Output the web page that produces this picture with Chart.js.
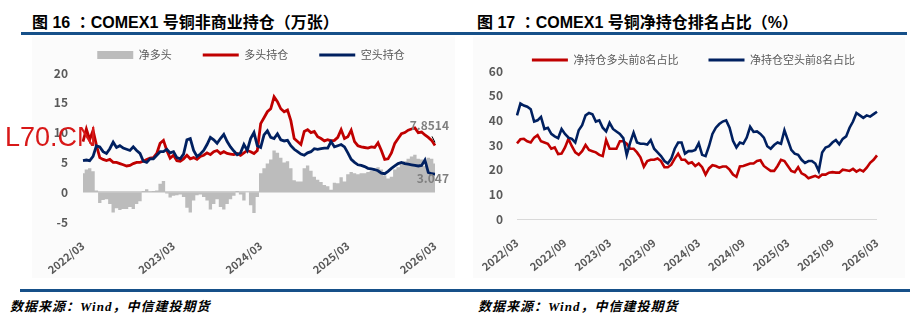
<!DOCTYPE html>
<html>
<head>
<meta charset="utf-8">
<script src="https://cdn.jsdelivr.net/npm/chart.js@4.4.1/dist/chart.umd.min.js"></script>
<style>
  body { margin: 0; background: #fff; }
  #page { position: relative; width: 915px; height: 330px; overflow: hidden; }
  .title { position: absolute; top: 9px; font: bold 16px "Liberation Sans", "Noto Sans CJK SC", sans-serif; color: #000; white-space: nowrap; }
  .colon { font-family: "Noto Sans CJK TC", "Noto Sans CJK SC", sans-serif; }
  .rule { position: absolute; height: 3px; background: #165089; }
  .panel { position: absolute; background: #fbfbfb; }
  .src { position: absolute; top: 296px; font: italic bold 13px "Liberation Serif", "Noto Sans CJK SC", serif; color: #000; white-space: nowrap; letter-spacing: 1px; }
  canvas { position: absolute; top: 0; }
  #wm { position: absolute; left: 5px; top: 122px; line-height: 1; color: #d81818; font: 27px "Liberation Sans", sans-serif; z-index: 5; }
</style>
</head>
<body>
<div id="page">
  <div class="panel" style="left:32px;top:37px;width:423px;height:241px"></div>
  <div class="panel" style="left:473px;top:37px;width:432px;height:241px"></div>
  <div class="title" style="left:32px">图 16 <span class="colon">：</span>COMEX1 号铜非商业持仓（万张）</div>
  <div class="title" style="left:477px">图 17 <span class="colon">：</span>COMEX1 号铜净持仓排名占比（%）</div>
  <div class="rule" style="left:21px;top:32px;width:440px"></div>
  <div class="rule" style="left:461px;top:32px;width:446px"></div>
  <canvas id="left" width="438" height="280" style="left:20px"></canvas>
  <canvas id="right" width="455" height="280" style="left:460px"></canvas>
  <div id="wm">L70.CN</div>
  <div class="rule" style="left:20px;top:289px;width:890px"></div>
  <div class="src" style="left:10px">数据来源：Wind，中信建投期货</div>
  <div class="src" style="left:478px">数据来源：Wind，中信建投期货</div>
</div>
<script>
// biweekly observations, first one in early March 2022
const startDate = new Date(2022, 2, 1);
const stepDays = 14;
const pointCount = 106;

// 图16 (万张)
const netLong = [3.2,3.8,4.0,3.5,0.3,-1.8,-1.3,-1.2,-2.0,-3.4,
  -2.7,-3.0,-2.8,-2.8,-2.5,-2.8,-2.0,-1.5,0.2,0.5,
  0.1,0.2,0.3,1.4,1.9,-0.2,-0.9,-0.6,-0.5,-0.4,
  -0.8,-2.6,-3.4,-1.4,-0.5,-0.4,-0.8,-1.4,-2.9,-2.0,
  -1.2,-2.5,-2.9,-2.0,-1.2,-0.6,0.2,-0.4,-1.4,0.0,
  -2.2,-3.5,-0.8,3.2,4.0,4.8,5.5,7.0,6.6,5.8,
  5.0,5.2,4.0,2.0,1.8,1.8,4.0,4.5,3.6,2.6,
  2.1,1.7,1.2,1.0,0.4,1.6,1.5,2.5,1.8,3.0,
  3.4,3.2,3.0,3.2,3.2,3.4,3.6,3.8,4.2,3.8,
  2.8,2.3,2.6,3.8,4.2,4.8,5.2,5.6,6.0,6.3,
  5.6,5.5,4.4,5.8,5.6,4.8];
const longPos = [8.5,10.6,8.8,10.4,7.9,5.8,5.5,5.3,5.5,5.0,
  5.0,4.8,4.6,4.4,4.5,4.8,5.0,5.0,5.2,5.5,
  5.7,5.8,6.5,8.2,8.7,7.0,5.7,6.2,5.3,5.2,
  5.6,6.2,5.6,5.8,5.5,6.0,6.2,6.6,6.3,6.8,
  7.0,6.5,6.8,6.5,6.4,6.3,6.5,6.2,6.6,7.0,
  6.8,6.5,7.0,11.5,12.5,13.5,14.0,16.0,15.2,14.0,
  13.5,13.8,12.0,9.0,8.5,8.0,10.2,10.5,10.0,10.2,
  9.3,9.0,8.6,8.8,8.6,8.7,9.2,10.5,9.0,9.3,
  10.4,8.5,7.8,7.6,7.5,7.4,7.6,7.5,8.3,7.0,
  5.5,5.6,6.6,8.2,9.0,9.8,10.0,10.4,10.6,10.8,
  10.0,10.1,9.6,9.2,8.7,7.8514];
const shortPos = [5.3,5.4,5.3,6.0,7.8,7.6,6.8,6.5,7.3,8.4,
  7.5,7.8,7.4,7.2,7.0,7.6,7.0,6.5,5.2,5.0,
  5.6,5.6,6.2,6.8,6.8,7.2,6.6,6.8,5.8,5.6,
  6.4,8.8,9.0,7.0,6.0,6.4,7.0,8.0,9.2,8.8,
  8.2,9.0,9.7,8.5,7.6,6.9,6.3,6.6,8.0,7.0,
  9.0,10.0,7.8,7.5,9.6,10.3,9.2,9.0,9.8,8.8,
  8.6,8.7,7.8,7.2,6.8,6.4,6.2,6.6,6.8,7.3,
  7.2,7.3,7.4,7.4,8.5,7.6,7.8,8.0,7.6,6.6,
  5.5,5.0,4.6,4.5,4.3,4.0,3.9,3.8,3.6,3.2,
  3.1,3.5,4.0,4.4,4.8,5.0,4.8,4.7,4.6,4.5,
  4.4,4.5,5.4,3.3,3.1,3.047];

// 图17 (%)
const top8Long = [30.7,32.3,32.5,31.5,31,33,34,31.5,31,30.5,
  28.5,29,26.3,26.5,29,32.5,29.5,27,26,27.5,
  30,28,27.5,27,26,25.5,32,28.5,28.5,28.5,
  31.5,31.5,30.5,28.5,28.5,27,25,21.2,23.5,24,
  24,24.5,23.5,21,21,22,24.5,26.5,24,24,
  22.5,23,21.5,22.5,21,18,20.5,21.8,21.5,20.8,
  21.3,21.3,20,18,17.1,21.3,21.5,22,22.5,22.5,
  23.5,23.8,21.5,20.5,19.5,19.5,21.5,24,23.5,21.5,
  19.5,19,21,18.5,17.8,16.5,17,17.5,16.8,18,
  18,18.8,19,18.8,18.8,20,19.8,19.5,20.3,19.2,
  20,19.3,20.8,22.8,24,25.8];
const top8Short = [42,46.8,46,45.5,44.5,39.5,40,41.4,36.5,37,
  34.5,33.5,32.8,36.5,34.5,33,32.5,31,36,38,
  42,43,42.5,39.5,40,37,35.5,39,36.5,35.5,
  34.5,32.8,26,31,35,31,30.5,30.5,30.2,32,
  28.5,27,25.5,23.5,22.5,24.5,28.5,31,31,26.5,
  27.5,27.5,28,30.7,26,25.5,29.5,34.5,37,38.5,
  39.5,40,37,31.7,29,31,30.5,33,37.4,35.3,
  35.5,34.5,33,29.5,28.5,30,31,30.5,36,32,
  28,26.5,26,24,22.7,23.5,23.5,22.5,19.5,27,
  29,29.5,31,32,30.3,32.5,33.5,37,39.5,43,
  42,41,42,41.5,42.5,43.5];

const leftTickMonths = ['03'];
const rightTickMonths = ['03', '09'];

const dates = [];
for (let i = 0; i < pointCount; i++) {
  const d = new Date(startDate.getTime() + i * stepDays * 86400000);
  dates.push(d.getFullYear() + '/' + String(d.getMonth() + 1).padStart(2, '0'));
}

const red = '#c00000';
const navy = '#002060';
const tickGray = '#595959';
Chart.defaults.font.family = '"Noto Sans CJK SC", sans-serif';

function monthTick(months) {
  return function (value, index) {
    const lab = dates[index];
    if (!months.includes(lab.slice(5))) return '';
    if (index > 0 && dates[index - 1] === lab) return '';
    return lab;
  };
}

function zeroGrid(color, width) {
  return {
    drawTicks: false,
    color: (c) => (c.tick && c.tick.value === 0 ? color : 'rgba(0,0,0,0)'),
    lineWidth: width
  };
}

// moves the legend row without touching the plot area
const legendShift = {
  id: 'legendShift',
  afterLayout(chart, args, opts) {
    const l = chart.legend;
    l.top += opts.dy; l.bottom += opts.dy;
    l.left += opts.dx; l.right += opts.dx;
  }
};

const endLabels = {
  id: 'endLabels',
  afterDatasetsDraw(chart) {
    const { ctx, scales: { x, y } } = chart;
    const last = longPos.length - 1;
    const xp = x.getPixelForValue(last);
    const yl = y.getPixelForValue(longPos[last]);
    const ys = y.getPixelForValue(shortPos[last]);
    ctx.save();
    ctx.font = 'bold 12px "Noto Sans CJK SC", sans-serif';
    ctx.fillStyle = '#7f7f7f';
    ctx.textAlign = 'right';
    ctx.textBaseline = 'middle';
    ctx.fillText(String(longPos[last]), xp + 14, yl - 20);
    ctx.fillText(String(shortPos[last]), xp + 14, ys + 4);
    ctx.strokeStyle = '#000';
    ctx.lineWidth = 1;
    ctx.beginPath();
    ctx.moveTo(xp - 3, yl - 9);
    ctx.lineTo(xp, yl - 3);
    ctx.stroke();
    ctx.restore();
  }
};

function legendOpts(pad, styles) {
  return {
    position: 'top',
    labels: {
      usePointStyle: true,
      pointStyleWidth: 36,
      boxHeight: 8,
      padding: pad,
      color: '#595959',
      font: { size: 11 },
      sort: (a, b) => a.datasetIndex - b.datasetIndex,
      generateLabels: (chart) => {
        const items = Chart.defaults.plugins.legend.labels.generateLabels(chart);
        items.forEach(it => {
          it.pointStyle = styles[it.datasetIndex];
          it.lineWidth = it.pointStyle === 'line' ? 3 : 0;
        });
        return items;
      }
    }
  };
}

function xAxis(months, h) {
  return {
    offset: false,
    grid: { display: false },
    border: { display: false },
    ticks: {
      autoSkip: false, minRotation: 39, maxRotation: 39, padding: 9,
      color: tickGray, font: { size: 11, weight: 'bold' },
      callback: monthTick(months)
    },
    afterFit: (s) => { s.height = h; s.paddingLeft = 0; s.paddingRight = 0; }
  };
}

function yAxis(min, max, step, w, pad, zeroColor, zeroWidth) {
  return {
    min: min, max: max,
    grid: zeroGrid(zeroColor, zeroWidth),
    border: { display: false },
    ticks: { stepSize: step, padding: pad, color: tickGray, font: { size: 12, weight: 'bold' } },
    afterFit: (s) => { s.width = w; s.paddingTop = 0; s.paddingBottom = 0; }
  };
}

new Chart(document.getElementById('left'), {
  type: 'line',
  data: {
    labels: dates,
    datasets: [
      // net long as a stepped filled column area
      { label: '净多头', data: netLong, backgroundColor: '#bcbcbc', borderColor: '#bcbcbc',
        borderWidth: 0, pointRadius: 0, stepped: 'middle', fill: 'origin', order: 3 },
      { label: '多头持仓', data: longPos, borderColor: red, backgroundColor: red,
        borderWidth: 2.8, pointRadius: 0, tension: 0, order: 2 },
      { label: '空头持仓', data: shortPos, borderColor: navy, backgroundColor: navy,
        borderWidth: 2.8, pointRadius: 0, tension: 0, order: 1 }
    ]
  },
  options: {
    responsive: false,
    animation: false,
    layout: { padding: { left: 0, right: 23, top: 21, bottom: 0 } },
    plugins: {
      legend: legendOpts(31, ['rect', 'line', 'line']),
      legendShift: { dx: 23.5, dy: -2.5 },
      tooltip: { enabled: false }
    },
    scales: {
      x: xAxis(leftTickMonths, 58),
      y: yAxis(-5, 20, 5, 63, 15, '#cfcfcf', 1.5)
    }
  },
  plugins: [legendShift, endLabels]
});

new Chart(document.getElementById('right'), {
  type: 'line',
  data: {
    labels: dates,
    datasets: [
      { label: '净持仓多头前8名占比', data: top8Long, borderColor: red, backgroundColor: red,
        borderWidth: 2.6, pointRadius: 0, tension: 0, order: 2 },
      { label: '净持仓空头前8名占比', data: top8Short, borderColor: navy, backgroundColor: navy,
        borderWidth: 2.6, pointRadius: 0, tension: 0, order: 1 }
    ]
  },
  options: {
    responsive: false,
    animation: false,
    layout: { padding: { left: 0, right: 38, top: 20, bottom: 0 } },
    plugins: {
      legend: legendOpts(30, ['line', 'line']),
      legendShift: { dx: 25, dy: 4.5 },
      tooltip: { enabled: false }
    },
    scales: {
      x: xAxis(rightTickMonths, 61),
      y: yAxis(0, 60, 10, 57, 14, '#d9d9d9', 1)
    }
  },
  plugins: [legendShift]
});
</script>
</body>
</html>
